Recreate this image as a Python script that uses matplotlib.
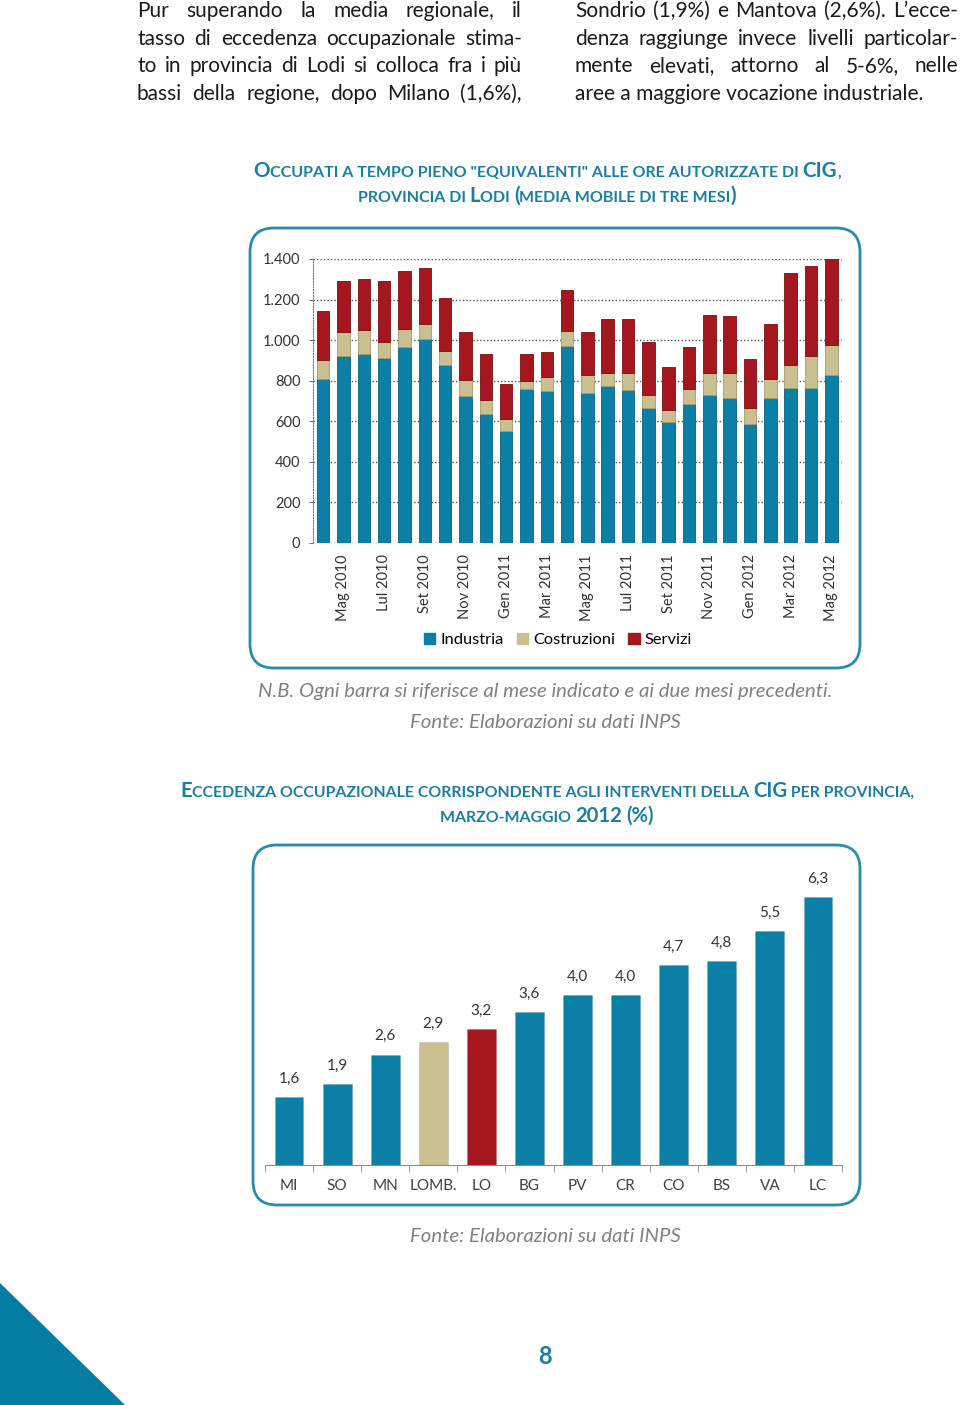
import numpy as np
import matplotlib.pyplot as plt
from matplotlib.patches import FancyBboxPatch, Polygon, Patch

plt.rcParams['font.family'] = ['Lato', 'DejaVu Sans']

# --- dati grafico 1: occupati equivalenti CIG (media mobile 3 mesi)
mesi = ['Apr 2010', 'Mag 2010', 'Giu 2010', 'Lul 2010', 'Ago 2010', 'Set 2010',
        'Ott 2010', 'Nov 2010', 'Dic 2010', 'Gen 2011', 'Feb 2011', 'Mar 2011',
        'Apr 2011', 'Mag 2011', 'Giu 2011', 'Lul 2011', 'Ago 2011', 'Set 2011',
        'Ott 2011', 'Nov 2011', 'Dic 2011', 'Gen 2012', 'Feb 2012', 'Mar 2012',
        'Apr 2012', 'Mag 2012']
industria = [807, 922, 930, 914, 968, 1005, 878, 725, 634, 552, 758, 749, 972,
             738, 774, 754, 667, 596, 684, 730, 716, 585, 713, 766, 766, 827]
costruzioni = [96, 119, 121, 79, 86, 74, 69, 77, 71, 61, 42, 68, 71,
               89, 66, 86, 63, 60, 77, 110, 124, 82, 97, 110, 156, 148]
servizi = [242, 252, 250, 300, 288, 278, 260, 236, 229, 173, 134, 125, 205,
           211, 264, 264, 262, 210, 207, 285, 277, 239, 271, 453, 445, 428]

# --- dati grafico 2: eccedenza occupazionale per provincia (%)
province = ['MI', 'SO', 'MN', 'LOMB.', 'LO', 'BG', 'PV', 'CR', 'CO', 'BS', 'VA', 'LC']
eccedenza = [1.6, 1.9, 2.6, 2.9, 3.2, 3.6, 4.0, 4.0, 4.7, 4.8, 5.5, 6.3]

testo_sx = ["Pur superando la media regionale, il",
            "tasso di eccedenza occupazionale stima-",
            "to in provincia di Lodi si colloca fra i più",
            "bassi della regione, dopo Milano (1,6%),"]
testo_dx = ["Sondrio (1,9%) e Mantova (2,6%). L’ecce-",
            "denza raggiunge invece livelli particolar-",
            "mente elevati, attorno al 5-6%, nelle",
            "aree a maggiore vocazione industriale."]

BLU = '#0b7fa6'
KAKI = '#c9bf91'
ROSSO = '#a6161f'
TEAL = '#1a7ea2'
GRIGIO = '#808080'

W, H = 960, 1405
fig = plt.figure(figsize=(9.6, 14.05), dpi=100)
bg = fig.add_axes([0, 0, 1, 1], zorder=0)
bg.set_xlim(0, W)
bg.set_ylim(H, 0)
bg.axis('off')
renderer = fig.canvas.get_renderer()


def width(s, **kw):
    t = bg.text(0, 0, '|' + s + '|', **kw)
    w1 = t.get_window_extent(renderer).width
    t.remove()
    t = bg.text(0, 0, '||', **kw)
    w2 = t.get_window_extent(renderer).width
    t.remove()
    return w1 - w2


def justify(line, x0, x1, y, **kw):
    words = line.split(' ')
    ws = [width(w, **kw) for w in words]
    gap = (x1 - x0 - sum(ws)) / (len(words) - 1)
    x = x0
    for w, wd in zip(words, ws):
        bg.text(x, y, w, ha='left', va='baseline', **kw)
        x += wd + gap


def smallcaps(s, xc, y, big, small, **kw):
    runs = []
    for ch in s:
        if ch.isupper() or ch.isdigit() or ch in '()%':
            piece, size = ch, big
        else:
            piece, size = ch.upper(), small
        if runs and runs[-1][1] == size:
            runs[-1][0] += piece
        else:
            runs.append([piece, size])
    ws = [width(r, fontsize=sz, **kw) for r, sz in runs]
    x = xc - sum(ws) / 2
    for (r, sz), wd in zip(runs, ws):
        bg.text(x, y, r, fontsize=sz, ha='left', va='baseline', **kw)
        x += wd


# testo in alto
par = dict(fontsize=15.0, color='#1a1a1a')
for i, riga in enumerate(testo_sx):
    justify(riga, 137, 522, 17 + i * 27.7, **par)
for i, riga in enumerate(testo_dx):
    if i < 3:
        justify(riga, 575, 958, 17 + i * 27.7, **par)
    else:
        bg.text(575, 17 + i * 27.7, riga, ha='left', va='baseline', **par)

# titoli
tit = dict(color=TEAL, fontweight='bold')
smallcaps('Occupati a tempo pieno "equivalenti" alle ore autorizzate di CIG,',
          547, 177, 14.8, 11.5, **tit)
smallcaps('provincia di Lodi (media mobile di tre mesi)', 547, 202, 14.8, 11.5, **tit)
smallcaps('Eccedenza occupazionale corrispondente agli interventi della CIG per provincia,',
          547, 797, 14.6, 11.4, **tit)
smallcaps('marzo-maggio 2012 (%)', 547, 822, 14.6, 11.4, **tit)

# cornici
for (x0, y0, w, h) in [(250, 228, 610, 440), (253, 845, 607, 360)]:
    bg.add_patch(FancyBboxPatch((x0, y0), w, h, boxstyle='round,pad=0,rounding_size=24',
                                fc='none', ec='#2b8bab', lw=2))

# note
note = dict(style='italic', color=GRIGIO, fontsize=14.7, ha='center', va='center')
bg.text(545, 691, 'N.B. Ogni barra si riferisce al mese indicato e ai due mesi precedenti.', **note)
bg.text(545, 723, 'Fonte: Elaborazioni su dati INPS', **note)
bg.text(545, 1236, 'Fonte: Elaborazioni su dati INPS', **note)

# triangolo e numero di pagina
bg.add_patch(Polygon([(0, 1283), (0, H), (125, H)], closed=True, color='#047ca3', lw=0))
bg.text(545, 1356, '8', fontsize=17, fontweight='bold', color=TEAL, ha='center', va='center')

# --- grafico 1
ind = np.array(industria)
cos = np.array(costruzioni)
ser = np.array(servizi)
x = np.arange(len(mesi))
ax1 = fig.add_axes([313 / W, 1 - 543 / H, (841.6 - 313) / W, (543 - 259) / H],
                   facecolor='none', zorder=2)
bw = 0.62
ax1.bar(x, ind, bw, color=BLU, edgecolor='#06627f', lw=0.6, zorder=3, label='Industria')
ax1.bar(x, cos, bw, bottom=ind, color=KAKI, edgecolor='#a69b6c', lw=0.6, zorder=3,
        label='Costruzioni')
ax1.bar(x, ser, bw, bottom=ind + cos, color=ROSSO, edgecolor='#7a0e14', lw=0.6, zorder=3,
        label='Servizi')
ax1.set_xlim(-0.5, len(mesi) - 0.5)
ax1.set_ylim(0, 1400)
yt = np.arange(0, 1401, 200)
ax1.set_yticks(yt)
ax1.set_yticklabels([f'{v:,}'.replace(',', '.') for v in yt], fontsize=10.5, color='#333333')
ax1.yaxis.grid(True, linestyle=(0, (1, 1.5)), color='#555555', lw=1, zorder=0)
ax1.set_axisbelow(True)
for s in ['top', 'right', 'bottom']:
    ax1.spines[s].set_visible(False)
ax1.spines['left'].set_linestyle((0, (1, 1.5)))
ax1.spines['left'].set_color('#777777')
ax1.tick_params(axis='y', length=3, color='#777777', pad=6)
ax1.set_xticks(x[1::2])
ax1.set_xticklabels(mesi[1::2], rotation=90, fontsize=10.5, color='#333333')
ax1.tick_params(axis='x', length=0, pad=8)

fig.legend(handles=[Patch(color=BLU), Patch(color=KAKI), Patch(color=ROSSO)],
           labels=['Industria', 'Costruzioni', 'Servizi'], loc='center',
           bbox_to_anchor=(558 / W, 1 - 640 / H), ncol=3, frameon=False, fontsize=11.8,
           handlelength=0.7, handleheight=0.7, handletextpad=0.3, columnspacing=0.8)

# --- grafico 2
evid = {'LOMB.': KAKI, 'LO': ROSSO}
colori = [evid.get(p, BLU) for p in province]
xp = np.arange(len(province))
ax2 = fig.add_axes([265 / W, 1 - 1165 / H, (842 - 265) / W, 297.5 / H],
                   facecolor='none', zorder=2)
ax2.bar(xp, eccedenza, 0.6, color=colori, edgecolor='#1b1b1b22', lw=0.5)
for i, v in enumerate(eccedenza):
    ax2.annotate(f'{v:.1f}'.replace('.', ','), (i, v), xytext=(0, 8),
                 textcoords='offset points', ha='center', va='bottom',
                 fontsize=11, color='#333333')
ax2.set_xlim(-0.5, len(province) - 0.5)
ax2.set_ylim(0, 7)
for s in ['top', 'right', 'left']:
    ax2.spines[s].set_visible(False)
ax2.spines['bottom'].set_color('#8c8c8c')
ax2.set_yticks([])
ax2.set_xticks(xp)
ax2.set_xticklabels(province, fontsize=11, color='#404040')
ax2.set_xticks(np.arange(-0.5, len(province)), minor=True)
ax2.tick_params(axis='x', which='major', length=0, pad=10)
ax2.tick_params(axis='x', which='minor', length=5, color='#8c8c8c')

fig.savefig('out.png', dpi=100)
